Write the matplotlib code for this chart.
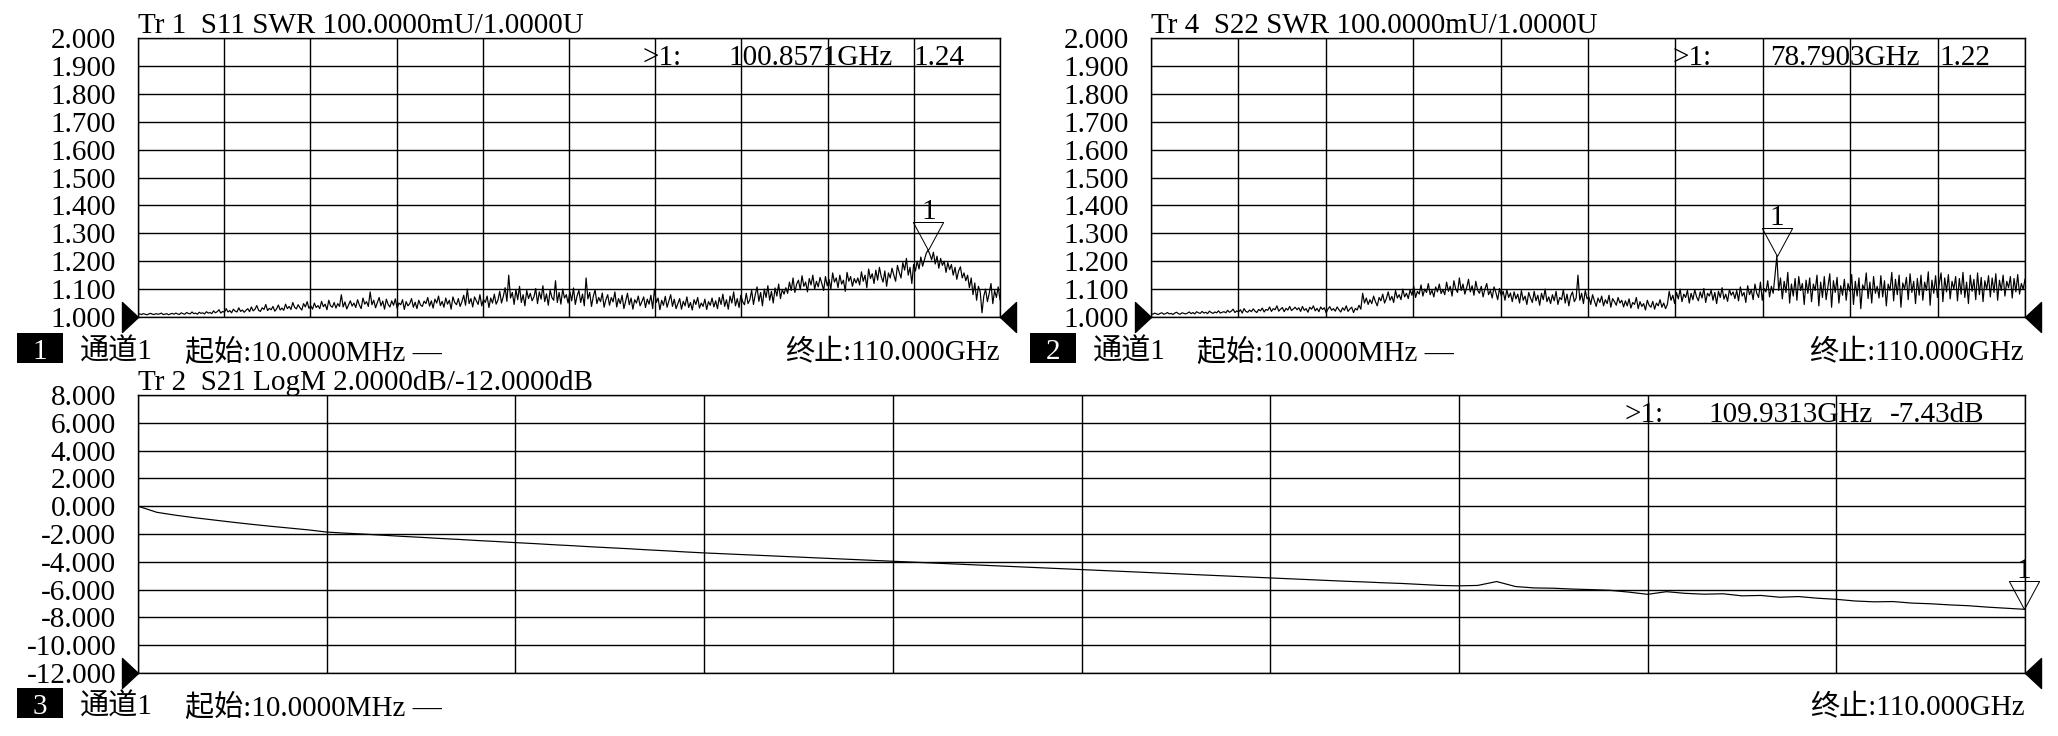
import numpy as np
import matplotlib
matplotlib.use('Agg')
import matplotlib.pyplot as plt
from matplotlib.patches import Rectangle
from matplotlib.path import Path
from matplotlib.transforms import offset_copy

# ---------------- data ----------------
F_START, F_STOP = 0.01, 110.0   # GHz

s11_swr = [
    1.010, 1.011, 1.009, 1.012, 1.010, 1.008, 1.011, 1.013, 1.010, 1.009, 1.012, 1.010, 1.011, 1.014, 1.009, 1.010, 1.012, 1.008, 1.011, 1.013,
    1.010, 1.014, 1.011, 1.009, 1.015, 1.012, 1.010, 1.016, 1.013, 1.011, 1.018, 1.012, 1.014, 1.010, 1.017, 1.013, 1.015, 1.011, 1.019, 1.014,
    1.016, 1.012, 1.022, 1.015, 1.019, 1.026, 1.014, 1.020, 1.017, 1.030, 1.018, 1.023, 1.015, 1.028, 1.021, 1.018, 1.033, 1.020, 1.025, 1.017,
    1.024, 1.030, 1.019, 1.036, 1.022, 1.028, 1.041, 1.024, 1.020, 1.033, 1.027, 1.045, 1.023, 1.031, 1.026, 1.038, 1.021, 1.029, 1.043, 1.025,
    1.032, 1.024, 1.046, 1.030, 1.038, 1.027, 1.052, 1.035, 1.029, 1.044, 1.033, 1.025, 1.048, 1.036, 1.055, 1.031, 1.040, 1.028, 1.050, 1.034,
    1.041, 1.030, 1.056, 1.037, 1.046, 1.026, 1.060, 1.040, 1.035, 1.052, 1.032, 1.048, 1.038, 1.080, 1.036, 1.054, 1.029, 1.044, 1.058, 1.039,
    1.050, 1.034, 1.062, 1.043, 1.030, 1.068, 1.046, 1.055, 1.038, 1.090, 1.044, 1.060, 1.033, 1.052, 1.070, 1.040, 1.057, 1.028, 1.064, 1.045,
    1.036, 1.058, 1.042, 1.065, 1.031, 1.050, 1.044, 1.062, 1.027, 1.055, 1.040, 1.048, 1.066, 1.035, 1.053, 1.030, 1.060, 1.043, 1.038, 1.057,
    1.048, 1.070, 1.039, 1.058, 1.032, 1.064, 1.050, 1.075, 1.041, 1.056, 1.035, 1.068, 1.046, 1.060, 1.028, 1.072, 1.052, 1.044, 1.066, 1.038,
    1.055, 1.078, 1.042, 1.100, 1.048, 1.066, 1.036, 1.072, 1.058, 1.045, 1.080, 1.040, 1.063, 1.052, 1.075, 1.034, 1.068, 1.050, 1.082, 1.046,
    1.060, 1.092, 1.050, 1.074, 1.105, 1.056, 1.150, 1.068, 1.088, 1.045, 1.098, 1.062, 1.110, 1.052, 1.080, 1.040, 1.095, 1.066, 1.085, 1.058,
    1.072, 1.102, 1.048, 1.090, 1.064, 1.112, 1.055, 1.083, 1.042, 1.096, 1.070, 1.060, 1.130, 1.052, 1.088, 1.046, 1.100, 1.068, 1.080, 1.050,
    1.090, 1.058, 1.104, 1.045, 1.076, 1.095, 1.052, 1.082, 1.040, 1.140, 1.065, 1.088, 1.038, 1.074, 1.098, 1.048, 1.070, 1.055, 1.086, 1.035,
    1.062, 1.080, 1.042, 1.070, 1.054, 1.090, 1.036, 1.066, 1.048, 1.078, 1.030, 1.058, 1.085, 1.044, 1.068, 1.028, 1.062, 1.050, 1.075, 1.040,
    1.055, 1.072, 1.034, 1.064, 1.046, 1.078, 1.030, 1.100, 1.052, 1.068, 1.026, 1.060, 1.042, 1.074, 1.035, 1.058, 1.080, 1.038, 1.064, 1.030,
    1.048, 1.066, 1.028, 1.056, 1.040, 1.072, 1.034, 1.052, 1.025, 1.062, 1.045, 1.070, 1.032, 1.050, 1.038, 1.064, 1.027, 1.055, 1.042, 1.068,
    1.036, 1.058, 1.030, 1.070, 1.045, 1.082, 1.038, 1.062, 1.028, 1.075, 1.050, 1.090, 1.040, 1.066, 1.034, 1.078, 1.055, 1.044, 1.085, 1.048,
    1.062, 1.096, 1.045, 1.080, 1.108, 1.056, 1.088, 1.040, 1.100, 1.070, 1.112, 1.060, 1.092, 1.050, 1.104, 1.075, 1.118, 1.066, 1.098, 1.082,
    1.105, 1.085, 1.125, 1.095, 1.140, 1.088, 1.118, 1.132, 1.098, 1.148, 1.110, 1.125, 1.090, 1.138, 1.115, 1.150, 1.100, 1.128, 1.108, 1.142,
    1.120, 1.095, 1.145, 1.112, 1.135, 1.100, 1.158, 1.125, 1.140, 1.105, 1.150, 1.118, 1.132, 1.092, 1.160, 1.128, 1.145, 1.110, 1.138, 1.122,
    1.140, 1.115, 1.162, 1.128, 1.150, 1.105, 1.172, 1.138, 1.155, 1.120, 1.168, 1.132, 1.178, 1.145, 1.125, 1.165, 1.110, 1.158, 1.140, 1.175,
    1.150, 1.128, 1.185, 1.160, 1.140, 1.195, 1.168, 1.210, 1.150, 1.178, 1.120, 1.188, 1.165, 1.200, 1.172, 1.215, 1.182, 1.205, 1.228, 1.240,
    1.225, 1.205, 1.232, 1.190, 1.218, 1.175, 1.210, 1.185, 1.200, 1.160, 1.195, 1.170, 1.188, 1.150, 1.178, 1.135, 1.165, 1.180, 1.140, 1.158,
    1.130, 1.150, 1.105, 1.140, 1.080, 1.122, 1.060, 1.110, 1.090, 1.015, 1.075, 1.100, 1.055, 1.085, 1.120, 1.048, 1.095, 1.070, 1.108, 1.062,
]

s22_swr = [
    1.012, 1.010, 1.014, 1.011, 1.009, 1.013, 1.015, 1.010, 1.012, 1.016, 1.011, 1.013, 1.009, 1.014, 1.017, 1.012, 1.010, 1.015, 1.013, 1.011,
    1.014, 1.018, 1.012, 1.016, 1.011, 1.019, 1.015, 1.013, 1.020, 1.014, 1.017, 1.012, 1.021, 1.016, 1.013, 1.018, 1.015, 1.022, 1.014, 1.017,
    1.019, 1.015, 1.024, 1.017, 1.021, 1.028, 1.016, 1.022, 1.018, 1.026, 1.014, 1.030, 1.020, 1.017, 1.025, 1.019, 1.029, 1.021, 1.016, 1.027,
    1.022, 1.032, 1.018, 1.027, 1.024, 1.036, 1.020, 1.030, 1.026, 1.040, 1.021, 1.028, 1.034, 1.019, 1.031, 1.025, 1.038, 1.023, 1.029, 1.035,
    1.026, 1.033, 1.020, 1.038, 1.024, 1.030, 1.017, 1.035, 1.028, 1.040, 1.022, 1.031, 1.019, 1.036, 1.027, 1.033, 1.015, 1.029, 1.037, 1.024,
    1.030, 1.021, 1.036, 1.026, 1.018, 1.033, 1.024, 1.040, 1.020, 1.029, 1.035, 1.016, 1.031, 1.025, 1.042, 1.028, 1.085, 1.050, 1.068, 1.045,
    1.062, 1.048, 1.075, 1.055, 1.040, 1.070, 1.058, 1.082, 1.050, 1.066, 1.090, 1.060, 1.074, 1.052, 1.095, 1.068, 1.080, 1.062, 1.100, 1.072,
    1.085, 1.066, 1.098, 1.078, 1.110, 1.070, 1.092, 1.082, 1.115, 1.075, 1.100, 1.088, 1.120, 1.080, 1.096, 1.072, 1.108, 1.090, 1.118, 1.084,
    1.098, 1.080, 1.125, 1.092, 1.110, 1.075, 1.130, 1.100, 1.088, 1.140, 1.095, 1.118, 1.082, 1.105, 1.135, 1.090, 1.112, 1.078, 1.128, 1.096,
    1.085, 1.110, 1.072, 1.100, 1.120, 1.080, 1.095, 1.068, 1.108, 1.088, 1.062, 1.102, 1.075, 1.092, 1.060, 1.098, 1.070, 1.086, 1.055, 1.090,
    1.065, 1.082, 1.050, 1.095, 1.060, 1.075, 1.045, 1.088, 1.068, 1.052, 1.092, 1.058, 1.078, 1.042, 1.085, 1.062, 1.100, 1.055, 1.072, 1.048,
    1.080, 1.058, 1.092, 1.045, 1.070, 1.062, 1.098, 1.050, 1.082, 1.040, 1.075, 1.090, 1.055, 1.068, 1.150, 1.060, 1.085, 1.048, 1.095, 1.065,
    1.072, 1.045, 1.080, 1.058, 1.038, 1.068, 1.052, 1.075, 1.040, 1.062, 1.048, 1.078, 1.035, 1.066, 1.055, 1.042, 1.070, 1.050, 1.060, 1.036,
    1.058, 1.040, 1.065, 1.032, 1.052, 1.045, 1.070, 1.030, 1.055, 1.038, 1.048, 1.025, 1.060, 1.042, 1.035, 1.056, 1.028, 1.050, 1.040, 1.062,
    1.035, 1.050, 1.030, 1.045, 1.092, 1.060, 1.078, 1.048, 1.088, 1.065, 1.100, 1.055, 1.082, 1.070, 1.095, 1.050, 1.085, 1.062, 1.098, 1.072,
    1.058, 1.090, 1.068, 1.102, 1.052, 1.085, 1.075, 1.096, 1.060, 1.088, 1.048, 1.092, 1.070, 1.105, 1.064, 1.082, 1.056, 1.098, 1.078, 1.090,
    1.066, 1.095, 1.058, 1.108, 1.075, 1.088, 1.052, 1.112, 1.080, 1.098, 1.062, 1.118, 1.085, 1.070, 1.125, 1.060, 1.102, 1.090, 1.130, 1.072,
    1.110, 1.085, 1.150, 1.220, 1.095, 1.140, 1.065, 1.128, 1.088, 1.160, 1.050, 1.118, 1.075, 1.138, 1.060, 1.145, 1.095, 1.120, 1.045, 1.132,
    1.085, 1.140, 1.055, 1.118, 1.095, 1.150, 1.040, 1.125, 1.070, 1.145, 1.062, 1.108, 1.155, 1.035, 1.130, 1.088, 1.142, 1.050, 1.112, 1.078,
    1.135, 1.060, 1.120, 1.092, 1.152, 1.045, 1.128, 1.075, 1.140, 1.030, 1.115, 1.098, 1.158, 1.066, 1.125, 1.050, 1.145, 1.085, 1.110, 1.068,
    1.148, 1.072, 1.130, 1.040, 1.118, 1.095, 1.160, 1.058, 1.135, 1.080, 1.150, 1.035, 1.122, 1.100, 1.142, 1.062, 1.155, 1.088, 1.128, 1.048,
    1.138, 1.078, 1.150, 1.060, 1.125, 1.095, 1.162, 1.042, 1.132, 1.085, 1.148, 1.070, 1.120, 1.158, 1.055, 1.140, 1.090, 1.152, 1.065, 1.128,
    1.100, 1.145, 1.058, 1.138, 1.082, 1.160, 1.070, 1.125, 1.048, 1.150, 1.092, 1.135, 1.062, 1.158, 1.080, 1.142, 1.055, 1.130, 1.098, 1.148,
    1.072, 1.140, 1.088, 1.155, 1.060, 1.132, 1.095, 1.150, 1.075, 1.128, 1.105, 1.145, 1.068, 1.138, 1.090, 1.152, 1.082, 1.120, 1.100, 1.135,
]

s21_db = [
    0.00, -0.44, -0.65, -0.83, -0.99, -1.15, -1.30, -1.44, -1.57, -1.70,
    -1.86, -1.94, -2.01, -2.09, -2.17, -2.24, -2.32, -2.39, -2.47, -2.54,
    -2.62, -2.69, -2.77, -2.84, -2.92, -2.99, -3.06, -3.14, -3.21, -3.29,
    -3.36, -3.42, -3.48, -3.54, -3.60, -3.66, -3.72, -3.78, -3.84, -3.90,
    -3.96, -4.02, -4.08, -4.14, -4.20, -4.26, -4.32, -4.38, -4.44, -4.50,
    -4.56, -4.62, -4.68, -4.74, -4.80, -4.86, -4.92, -4.98, -5.04, -5.10,
    -5.16, -5.22, -5.28, -5.34, -5.40, -5.45, -5.51, -5.56, -5.63, -5.70,
    -5.73, -5.70, -5.42, -5.78, -5.88, -5.90, -5.96, -6.00, -6.05, -6.18,
    -6.34, -6.15, -6.27, -6.33, -6.30, -6.45, -6.42, -6.55, -6.50, -6.62,
    -6.70, -6.82, -6.88, -6.86, -6.97, -7.02, -7.10, -7.16, -7.26, -7.34,
    -7.42,
]

swr_tick_values = [1.0, 1.1, 1.2, 1.3, 1.4, 1.5, 1.6, 1.7, 1.8, 1.9, 2.0]
swr_tick_labels = ['1.000', '1.100', '1.200', '1.300', '1.400', '1.500',
                   '1.600', '1.700', '1.800', '1.900', '2.000']
db_tick_values = [-12, -10, -8, -6, -4, -2, 0, 2, 4, 6, 8]
db_tick_labels = ['-12.000', '-10.000', '-8.000', '-6.000', '-4.000', '-2.000',
                  '0.000', '2.000', '4.000', '6.000', '8.000']

titles = ['Tr 1  S11 SWR 100.0000mU/1.0000U',
          'Tr 4  S22 SWR 100.0000mU/1.0000U',
          'Tr 2  S21 LogM 2.0000dB/-12.0000dB']
marker_freq = [100.8571, 78.7903, 109.9313]
marker_value = [1.24, 1.22, -7.43]
marker_freq_text = ['100.8571GHz', '78.7903GHz', '109.9313GHz']
marker_value_text = ['1.24', '1.22', '-7.43dB']
channel_numbers = ['1', '2', '3']
channel_text = '通道1'
start_text = '起始:10.0000MHz —'
stop_text = '终止:110.000GHz'

# ---------------- figure ----------------
W, H, DPI = 2058, 736, 100
FONT = ['Liberation Serif', 'Noto Sans CJK SC']
plt.rcParams['font.family'] = FONT
FS = 21
PT = 72.0 / DPI   # points per pixel

fig = plt.figure(figsize=(W / DPI, H / DPI), dpi=DPI, facecolor='white')


def add_panel(x0, y0, x1, y1):
    return fig.add_axes([x0 / W, 1 - y1 / H, (x1 - x0) / W, (y1 - y0) / H])


panels = [add_panel(138, 38, 1000, 317),
          add_panel(1151, 38, 2025, 317),
          add_panel(138, 395, 2025, 673)]

# custom marker paths
tri_down = Path([(0, 0), (-0.54, 1), (0.54, 1), (0, 0)],
                [Path.MOVETO, Path.LINETO, Path.LINETO, Path.CLOSEPOLY])
tri_right = Path([(0, 0), (-1.07, 1), (-1.07, -1), (0, 0)],
                 [Path.MOVETO, Path.LINETO, Path.LINETO, Path.CLOSEPOLY])
tri_left = Path([(0, 0), (1.07, 1), (1.07, -1), (0, 0)],
                [Path.MOVETO, Path.LINETO, Path.LINETO, Path.CLOSEPOLY])

series = [s11_swr, s22_swr, s21_db]
ticks = [(swr_tick_values, swr_tick_labels), (swr_tick_values, swr_tick_labels),
         (db_tick_values, db_tick_labels)]
# readout positions (pixels from panel left): '>1:' left, freq right, value left
readout_px = [(505, 755, 775), (521, 769, 788), (1487, 1735, 1752)]

for i, ax in enumerate(panels):
    vals, labs = ticks[i]
    ax.set_xlim(F_START, F_STOP)
    ax.set_ylim(vals[0], vals[-1])
    ax.set_xticks(np.linspace(F_START, F_STOP, 11))
    ax.set_xticklabels([])
    ax.set_yticks(vals)
    ax.set_yticklabels(labs, fontsize=FS)
    ax.tick_params(length=0, pad=22 * PT, colors='black')
    ax.grid(True, color='black', linewidth=1.4 * PT)
    for sp in ax.spines.values():
        sp.set_color('black')
        sp.set_linewidth(1.4 * PT)
    ax.set_facecolor('white')

    y = series[i]
    f = np.linspace(F_START, F_STOP, len(y))
    ax.plot(f, y, color='black', linewidth=1.2 * PT, zorder=3)

    # title
    ax.text(0, 1, titles[i], fontsize=FS, ha='left', va='baseline',
            transform=offset_copy(ax.transAxes, fig=fig, x=0, y=5, units='dots'))

    # marker readout
    rx0, rx1, rx2 = readout_px[i]
    base = dict(fontsize=FS, va='baseline')
    ax.text(0, 1, '>1:', ha='left', **base,
            transform=offset_copy(ax.transAxes, fig=fig, x=rx0, y=-27, units='dots'))
    ax.text(0, 1, marker_freq_text[i], ha='right', **base,
            transform=offset_copy(ax.transAxes, fig=fig, x=rx1, y=-27, units='dots'))
    ax.text(0, 1, marker_value_text[i], ha='left', **base,
            transform=offset_copy(ax.transAxes, fig=fig, x=rx2, y=-27, units='dots'))

    # marker triangle with label
    ax.plot([marker_freq[i]], [marker_value[i]], linestyle='none',
            marker=tri_down, markersize=56 * PT, markerfacecolor='none',
            markeredgecolor='black', markeredgewidth=1.0 * PT, clip_on=False, zorder=4)
    ax.annotate('1', xy=(marker_freq[i], marker_value[i]), xytext=(0, 31),
                textcoords='offset pixels', ha='center', va='baseline',
                fontsize=FS, annotation_clip=False)

    # reference level triangles
    ax.plot([0], [0], transform=ax.transAxes, marker=tri_right, markersize=32 * PT,
            color='black', linestyle='none', clip_on=False, zorder=5)
    ax.plot([1], [0], transform=ax.transAxes, marker=tri_left, markersize=32 * PT,
            color='black', linestyle='none', clip_on=False, zorder=5)


# channel status lines
def px_x(x):
    return x / W


def px_y(y):
    return 1 - y / H


status = [  # box left, baseline y, text x, start x, stop right
    (17, 360, 80, 185, 1000),
    (1030, 360, 1093, 1197, 2024),
    (17, 715, 80, 185, 2025),
]
for i, (bx, by, tx, sx, ex) in enumerate(status):
    fig.add_artist(Rectangle((px_x(bx), px_y(by + 3)), 46 / W, 30 / H,
                             transform=fig.transFigure, facecolor='black',
                             edgecolor='none'))
    fig.text(px_x(bx + 23), px_y(by - 1), channel_numbers[i], color='white',
             fontsize=FS, ha='center', va='baseline')
    fig.text(px_x(tx), px_y(by), channel_text, fontsize=FS, ha='left', va='baseline')
    fig.text(px_x(sx), px_y(by), start_text, fontsize=FS, ha='left', va='baseline')
    fig.text(px_x(ex), px_y(by), stop_text, fontsize=FS, ha='right', va='baseline')

fig.savefig('out.png', dpi=DPI, facecolor='white')
